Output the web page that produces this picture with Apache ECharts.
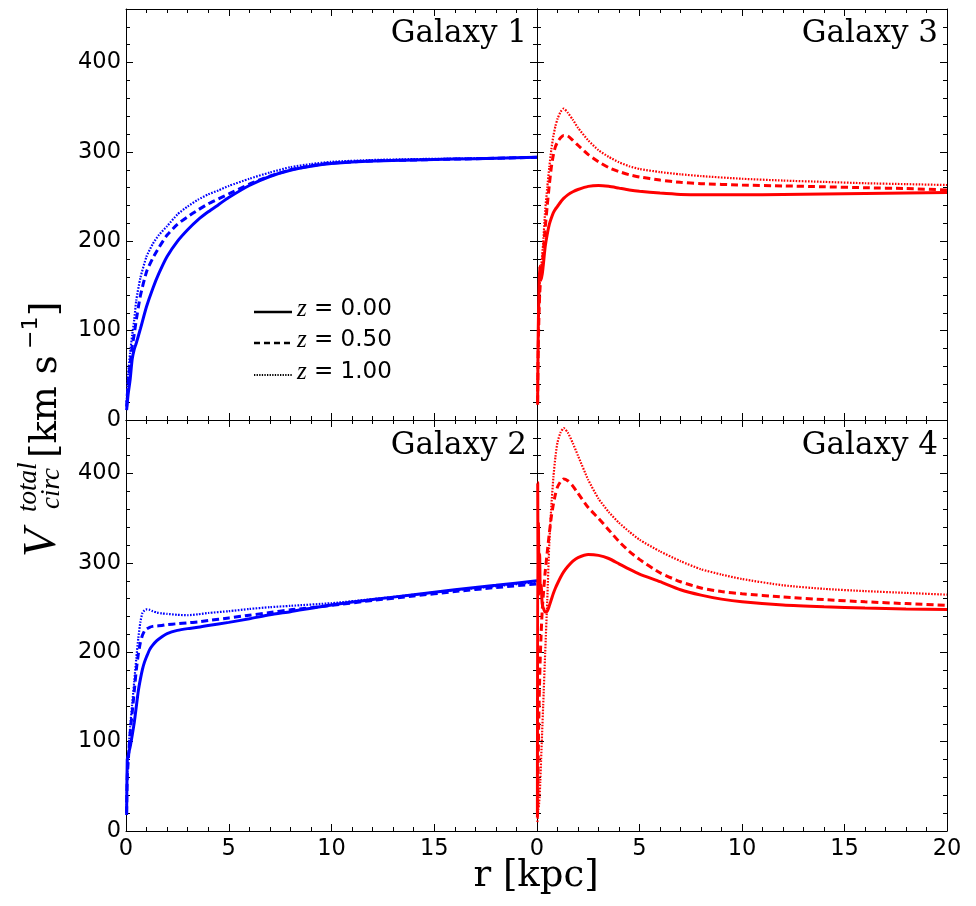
<!DOCTYPE html>
<html>
<head>
<meta charset="utf-8">
<script src="https://cdn.jsdelivr.net/npm/echarts@6.0.0/dist/echarts.min.js"></script>
<style>
  html, body { margin: 0; padding: 0; background: #fff; }
  #chart { width: 976px; height: 906px; }
</style>
</head>
<body>
<div id="chart"></div>
<script>
// ---- data: r in kpc, V_circ in km/s ----
// Galaxy 1 (top left)
const g1R   = [0.03, 0.1, 0.2, 0.3, 0.4, 0.5, 0.7, 1.0, 1.3, 1.6, 2.0, 2.5, 3.0, 3.5, 4.0, 4.5, 5, 6, 7, 8, 9, 10, 12, 14, 16, 18, 20];
const g1Z0  = [11, 28, 45, 68, 79, 86, 102, 127, 147, 164, 183, 200, 213, 224, 233, 241, 249, 262.5, 272.5, 279.5, 284, 287, 290, 291, 292, 293, 294];
const g1Z05 = [15, 40, 62, 82, 96, 112, 139, 166, 181, 193, 207, 219, 227.5, 235, 242, 247.5, 253, 264, 273, 280, 284.5, 287.5, 290, 291, 292, 293, 294];
const g1Z1  = [20, 50, 75, 95, 112, 134, 159, 183, 197, 207, 217, 230, 239, 246.5, 252.5, 257, 262, 270, 277, 283, 286.5, 289, 291, 292, 292.5, 293, 294];

// Galaxy 2 (bottom left)
const g2R   = [0.03, 0.06, 0.1, 0.2, 0.3, 0.4, 0.5, 0.6, 0.7, 0.8, 0.9, 1.0, 1.15, 1.3, 1.5, 1.75, 2.0, 2.5, 3.0, 3.5, 4, 5, 6, 7, 8, 10, 12, 14, 16, 18, 20];
const g2Z0  = [18, 80, 84, 94, 107, 121, 139, 157, 170, 181, 189, 195, 203, 208, 213, 217.5, 221, 224.5, 226.5, 228, 230, 233.5, 237.5, 242, 245.5, 253, 259, 264.5, 270, 275, 280];
const g2Z05 = [20, 60, 75, 109, 132, 156, 180, 198, 211, 219, 224, 226, 228, 229, 229.5, 230, 231, 232, 233, 234, 235.5, 238.5, 241.5, 244.5, 247.5, 252.5, 258, 263, 268, 272.5, 276.5];
const g2Z1  = [22, 65, 80, 116, 142, 167, 193, 216, 234, 244, 247, 248, 247.5, 246, 244.5, 243.5, 243, 242, 241.5, 242.5, 244, 246, 248.5, 250.5, 252, 255, 259.5, 264.5, 269.5, 274, 278.5];

// Galaxy 3 (top right)
const g3R   = [0.03, 0.06, 0.1, 0.13, 0.17, 0.22, 0.3, 0.4, 0.5, 0.6, 0.7, 0.8, 0.9, 1.0, 1.15, 1.3, 1.5, 1.75, 2.0, 2.5, 3.0, 3.5, 4.0, 4.5, 5, 6, 7, 8, 10, 12, 14, 16, 18, 20];
const g3Z0  = [17, 100, 150, 172, 160, 158, 172, 194, 208, 219, 226, 232, 236, 239, 244, 248, 252, 255.5, 258, 261.5, 262.5, 261.5, 259.5, 257.5, 256, 254, 252.5, 252, 252, 252.5, 253, 253.5, 254, 254.5];
const g3Z05 = [20, 80, 120, 140, 155, 165, 185, 215, 240, 263, 283, 297, 306, 311, 316, 318.5, 318, 313, 307.5, 297, 289, 282.5, 278, 274.5, 272, 268.5, 266, 264.5, 263, 262, 261, 260, 259, 257.5];
const g3Z1  = [25, 90, 130, 150, 165, 175, 198, 235, 260, 283, 303, 318, 329, 337, 345, 348.5, 344, 336, 327, 313, 302, 294.5, 288.5, 284, 281, 277.5, 275, 273, 270, 268, 266.5, 265, 264, 263];

// Galaxy 4 (bottom right)
const g4R   = [0.02, 0.035, 0.05, 0.07, 0.1, 0.13, 0.16, 0.2, 0.25, 0.3, 0.4, 0.5, 0.6, 0.7, 0.8, 0.9, 1.0, 1.15, 1.3, 1.5, 1.75, 2.0, 2.5, 3.0, 3.5, 4, 4.5, 5, 6, 7, 8, 9, 10, 12, 14, 16, 18, 20];
const g4Z0  = [20, 390, 300, 345, 265, 310, 270, 275, 255, 250, 245, 246, 252, 259, 266, 272, 277, 284, 290, 296, 302, 306, 309.5, 308.5, 305, 299, 293, 287.5, 279, 270, 264, 259.5, 256.5, 253, 251, 249.5, 248.5, 248];
const g4Z05 = [15, 30, 60, 100, 140, 170, 195, 220, 245, 262, 290, 312, 333, 352, 366, 377, 385, 391, 394, 392, 386, 378, 362, 350, 337, 324, 313, 304, 289, 279, 272, 268, 265.5, 262, 259, 256.5, 254.5, 252.5];
const g4Z1  = [10, 15, 20, 25, 30, 40, 55, 80, 110, 140, 200, 258, 322, 364, 396, 419, 435, 446, 451, 446, 434, 420, 393, 372, 357, 345, 335, 326, 313, 302, 293, 287, 282, 275, 271, 268.5, 266.5, 264.5];

const zLabels = ['0.00', '0.50', '1.00'];
const galaxyNames = ['Galaxy 1', 'Galaxy 3', 'Galaxy 2', 'Galaxy 4'];

// panel order: top-left, top-right, bottom-left, bottom-right
const panels = [
  { r: g1R, v: [g1Z0, g1Z05, g1Z1], color: '#0000ff' },
  { r: g3R, v: [g3Z0, g3Z05, g3Z1], color: '#ff0000' },
  { r: g2R, v: [g2Z0, g2Z05, g2Z1], color: '#0000ff' },
  { r: g4R, v: [g4Z0, g4Z05, g4Z1], color: '#ff0000' }
];

const grids = [
  { left: 126, top: 9, width: 411, height: 411 },
  { left: 537, top: 9, width: 410, height: 411 },
  { left: 126, top: 420, width: 411, height: 411 },
  { left: 537, top: 420, width: 410, height: 411 }
];

const lineStyles = [
  { type: 'solid', width: 3 },
  { type: [7, 4], width: 3 },
  { type: [1.6, 1.4], width: 2.2 }
];

const tickFont = { fontFamily: 'DejaVu Sans', fontSize: 22.5, color: '#000' };
const black = { color: '#000', width: 1 };

function xAxes(g, showLabels, hideLast) {
  const base = { gridIndex: g, type: 'value', min: 0, max: 20, splitLine: { show: false } };
  const major = {
    ...base, interval: 5,
    axisLine: { show: true, onZero: false, lineStyle: black },
    axisTick: { inside: true, length: 7, lineStyle: black }
  };
  const minor = {
    ...base, interval: 1,
    axisLine: { show: false, onZero: false },
    axisTick: { inside: true, length: 4, lineStyle: black },
    axisLabel: { show: false }
  };
  return [
    { ...major, position: 'bottom', axisLabel: { show: showLabels, margin: 7, ...tickFont,
        formatter: v => (hideLast && v === 20) ? '' : String(v) } },
    { ...minor, position: 'bottom' },
    { ...major, position: 'top', axisLabel: { show: false } },
    { ...minor, position: 'top' }
  ];
}

function yAxes(g, showLabels) {
  const base = { gridIndex: g, type: 'value', min: 0, max: 460, splitLine: { show: false } };
  const major = {
    ...base, interval: 100,
    axisLine: { show: true, onZero: false, lineStyle: black },
    axisTick: { inside: true, length: 7, lineStyle: black }
  };
  const minor = {
    ...base, interval: 20,
    axisLine: { show: false, onZero: false },
    axisTick: { inside: true, length: 4, lineStyle: black },
    axisLabel: { show: false }
  };
  return [
    { ...major, position: 'left', axisLabel: { show: showLabels, margin: 5, ...tickFont,
        formatter: v => (v % 100 === 0 && v <= 400) ? String(v) : '' } },
    { ...minor, position: 'left' },
    { ...major, position: 'right', axisLabel: { show: false } },
    { ...minor, position: 'right' }
  ];
}

const xAxis = [].concat(
  xAxes(0, false, false), xAxes(1, false, false),
  xAxes(2, true, true), xAxes(3, true, false)
);
const yAxis = [].concat(
  yAxes(0, true), yAxes(1, false), yAxes(2, true), yAxes(3, false)
);

const series = [];
panels.forEach((p, g) => {
  p.v.forEach((vals, k) => {
    series.push({
      type: 'line',
      name: 'z = ' + zLabels[k],
      xAxisIndex: 4 * g,
      yAxisIndex: 4 * g,
      data: p.r.map((r, i) => [r, vals[i]]),
      symbol: 'none',
      smooth: 0.2,
      lineStyle: { color: p.color, width: lineStyles[k].width, type: lineStyles[k].type },
      animation: false
    });
  });
});

// galaxy labels, upper right of each panel
const titlePos = [[527, 34], [938, 34], [527, 446], [938, 446]];
const graphics = galaxyNames.map((name, i) => ({
  type: 'text',
  x: titlePos[i][0], y: titlePos[i][1],
  style: { text: name, font: '31px "DejaVu Serif"', fill: '#000', align: 'right', verticalAlign: 'middle' }
}));

// x axis name
graphics.push({
  type: 'text', x: 536, y: 876,
  style: { text: 'r [kpc]', font: '37px "DejaVu Serif"', fill: '#000', align: 'center', verticalAlign: 'middle' }
});

// y axis name, rotated
graphics.push({
  type: 'group', x: 57, y: 557, rotation: Math.PI / 2,
  children: [
    { type: 'text', x: 0, y: -14, style: { text: 'V', font: 'italic 46px "Liberation Serif"', fill: '#000', verticalAlign: 'middle' } },
    { type: 'text', x: 45, y: -28, style: { text: 'total', font: 'italic 27px "Liberation Serif"', fill: '#000', verticalAlign: 'middle' } },
    { type: 'text', x: 48, y: -5, style: { text: 'circ', font: 'italic 27px "Liberation Serif"', fill: '#000', verticalAlign: 'middle' } },
    { type: 'text', x: 99, y: -11, style: { text: '[km s', font: '37px "DejaVu Serif"', fill: '#000', verticalAlign: 'middle' } },
    { type: 'text', x: 208, y: -26, style: { text: '\u22121', font: '22px "DejaVu Sans"', fill: '#000', verticalAlign: 'middle' } },
    { type: 'text', x: 241, y: -11, style: { text: ']', font: '37px "DejaVu Serif"', fill: '#000', verticalAlign: 'middle' } }
  ]
});

// legend (black keys) inside Galaxy 1
const legendRows = [312, 343, 375];
legendRows.forEach((y, k) => {
  graphics.push({
    type: 'line',
    shape: { x1: 254, y1: y, x2: 292, y2: y },
    style: { stroke: '#000', lineWidth: k === 2 ? 1.8 : 2.5, lineDash: k === 0 ? null : (k === 1 ? [6, 4] : [1.3, 1.3]) }
  });
  graphics.push({
    type: 'text', x: 297, y: y - 3,
    style: {
      text: '{z|z}{t| = ' + zLabels[k] + '}',
      verticalAlign: 'middle',
      rich: {
        z: { font: 'italic 25px "Liberation Serif"', fill: '#000' },
        t: { font: '23px "DejaVu Sans"', fill: '#000' }
      }
    }
  });
});

const chart = echarts.init(document.getElementById('chart'));
chart.setOption({
  animation: false,
  backgroundColor: '#fff',
  grid: grids,
  xAxis: xAxis,
  yAxis: yAxis,
  series: series,
  graphic: graphics
});
</script>
</body>
</html>
